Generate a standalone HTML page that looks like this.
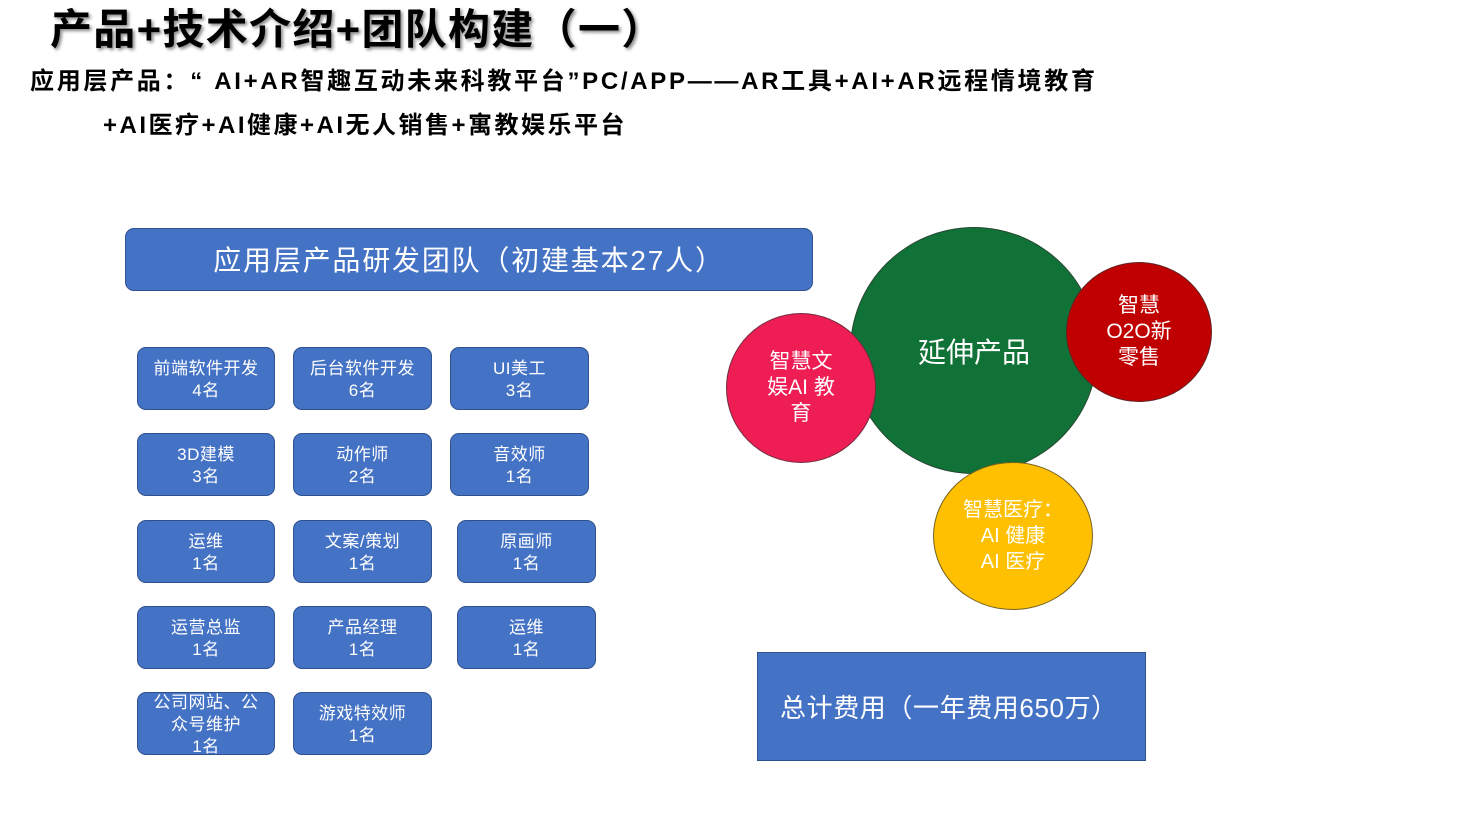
<!DOCTYPE html>
<html><head><meta charset="utf-8"><style>
body{margin:0;width:1467px;height:822px;background:#fff;position:relative;overflow:hidden;font-family:"Liberation Sans","Noto Sans CJK SC",sans-serif}
.a{position:absolute;white-space:nowrap}
.b{position:absolute;background:#4472c4;border:1px solid #2f528f;border-radius:9px;color:#fff;font-size:17px;line-height:22px;text-align:center;display:flex;align-items:center;justify-content:center;box-sizing:border-box;letter-spacing:0.5px;padding-top:2px}
.c{position:absolute;border-radius:50%;border:1px solid #333a;color:#fff;display:flex;align-items:center;justify-content:center;text-align:center;box-sizing:border-box}
</style></head><body>
<div class="a" style="left:50px;top:2px;font-size:42px;font-weight:bold;line-height:56px;letter-spacing:1.3px;text-shadow:2px 2px 3px #888">产品+技术介绍+团队构建（一）</div>
<div class="a" style="left:30px;top:66px;font-size:24px;font-weight:bold;line-height:32px;letter-spacing:2.7px">应用层产品：“ AI+AR智趣互动未来科教平台”PC/APP——AR工具+AI+AR远程情境教育</div>
<div class="a" style="left:103px;top:110px;font-size:24px;font-weight:bold;line-height:32px;letter-spacing:2.5px">+AI医疗+AI健康+AI无人销售+寓教娱乐平台</div>
<div class="b" style="left:125px;top:228px;width:688px;height:63px;font-size:28px;line-height:36px;letter-spacing:1.8px">应用层产品研发团队（初建基本27人）</div>
<div class="b" style="left:137px;top:347px;width:138px;height:63px">前端软件开发<br>4名</div>
<div class="b" style="left:293px;top:347px;width:139px;height:63px">后台软件开发<br>6名</div>
<div class="b" style="left:450px;top:347px;width:139px;height:63px">UI美工<br>3名</div>
<div class="b" style="left:137px;top:433px;width:138px;height:63px">3D建模<br>3名</div>
<div class="b" style="left:293px;top:433px;width:139px;height:63px">动作师<br>2名</div>
<div class="b" style="left:450px;top:433px;width:139px;height:63px">音效师<br>1名</div>
<div class="b" style="left:137px;top:520px;width:138px;height:63px">运维<br>1名</div>
<div class="b" style="left:293px;top:520px;width:139px;height:63px">文案/策划<br>1名</div>
<div class="b" style="left:457px;top:520px;width:139px;height:63px">原画师<br>1名</div>
<div class="b" style="left:137px;top:606px;width:138px;height:63px">运营总监<br>1名</div>
<div class="b" style="left:293px;top:606px;width:139px;height:63px">产品经理<br>1名</div>
<div class="b" style="left:457px;top:606px;width:139px;height:63px">运维<br>1名</div>
<div class="b" style="left:137px;top:692px;width:138px;height:63px">公司网站、公<br>众号维护<br>1名</div>
<div class="b" style="left:293px;top:692px;width:139px;height:63px">游戏特效师<br>1名</div>
<div class="c" style="left:850px;top:227px;width:248px;height:247px;background:#107236;font-size:28px">延伸产品</div>
<div class="c" style="left:726px;top:313px;width:150px;height:150px;background:#ee1e55;font-size:21px;line-height:26px">智慧文<br>娱AI 教<br>育</div>
<div class="c" style="left:1066px;top:262px;width:146px;height:140px;background:#c00000;font-size:21px;line-height:26px">智慧<br>O2O新<br>零售</div>
<div class="c" style="left:933px;top:462px;width:160px;height:148px;background:#fec000;font-size:20px;line-height:26px">智慧医疗：<br>AI 健康<br>AI 医疗</div>
<div class="b" style="left:757px;top:652px;width:389px;height:109px;border-radius:0;font-size:26px;justify-content:flex-start;padding-left:22px;letter-spacing:0.6px">总计费用（一年费用650万）</div>
</body></html>
